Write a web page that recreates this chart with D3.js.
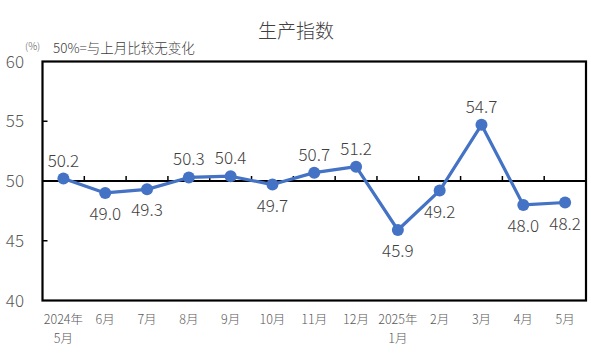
<!DOCTYPE html>
<html><head><meta charset="utf-8">
<script src="https://cdn.jsdelivr.net/npm/d3@7"></script>
<style>
body{margin:0;background:#fff;}
text{font-family:"Noto Sans CJK SC","Noto Sans",sans-serif;font-weight:300;}
</style></head>
<body><svg id="c" width="591" height="354"></svg>
<script>
const categories = ["2024年\n5月","6月","7月","8月","9月","10月","11月","12月","2025年\n1月","2月","3月","4月","5月"];
const values = [50.2,49.0,49.3,50.3,50.4,49.7,50.7,51.2,45.9,49.2,54.7,48.0,48.2];
const labelPos = ["above","below","below","above","above","below","above","above","below","below","above","below","below"];
const yTicks = [40,45,50,55,60];
const title = "生产指数";
const unit = "(%)";
const note = "50%=与上月比较无变化";

const svg = d3.select("#c");
const L=42.5, R=586, T=61.5, B=300.5;
const x = d3.scaleBand().domain(d3.range(categories.length)).range([L,R]);
const y = d3.scaleLinear().domain([40,60]).range([B,T]);
const txt = "#595959";

svg.append("text").attr("x",296).attr("y",38).attr("text-anchor","middle")
  .attr("font-size",19).attr("fill","#404040").text(title);
svg.append("text").attr("x",25).attr("y",50).attr("font-size",10).attr("fill",txt).text(unit);
svg.append("text").attr("x",53).attr("y",53).attr("font-size",13.5).attr("fill","#404040").text(note);

// y labels
svg.selectAll(".yl").data(yTicks).enter().append("text")
  .attr("x",24).attr("y",d=>y(d)+6).attr("text-anchor","end")
  .attr("font-size",17).attr("fill",txt).text(d=>d);

// frame
svg.append("rect").attr("x",L).attr("y",T).attr("width",R-L).attr("height",B-T)
  .attr("fill","none").attr("stroke","#000").attr("stroke-width",2.2);

// y inner ticks
svg.selectAll(".yt").data([45,55]).enter().append("line")
  .attr("x1",L).attr("x2",L+5).attr("y1",d=>y(d)).attr("y2",d=>y(d))
  .attr("stroke","#000").attr("stroke-width",1.5);

// 50 axis line
const ax = svg.append("g").attr("transform",`translate(0,${y(50)})`);
ax.append("line").attr("x1",L).attr("x2",R).attr("stroke","#000").attr("stroke-width",2.2);
ax.selectAll(".xt").data(d3.range(1,categories.length)).enter().append("line")
  .attr("x1",d=>x(d)).attr("x2",d=>x(d)).attr("y1",0).attr("y2",-5)
  .attr("stroke","#000").attr("stroke-width",1.5);

// x labels
const cx = i=>x(i)+x.bandwidth()/2;
categories.forEach((c,i)=>{
  const t = svg.append("text").attr("text-anchor","middle").attr("font-size",12.5).attr("fill",txt);
  c.split("\n").forEach((s,j)=>{
    t.append("tspan").attr("x",cx(i)).attr("y",324+j*19).text(s);
  });
});

// line
const line = d3.line().x((d,i)=>cx(i)).y(d=>y(d));
svg.append("path").datum(values).attr("d",line).attr("fill","none")
  .attr("stroke","#4472C4").attr("stroke-width",3.2).attr("stroke-linejoin","round");
svg.selectAll(".pt").data(values).enter().append("circle")
  .attr("cx",(d,i)=>cx(i)).attr("cy",d=>y(d)).attr("r",6).attr("fill","#4472C4");

// data labels
svg.selectAll(".dl").data(values).enter().append("text")
  .attr("x",(d,i)=>cx(i)).attr("y",(d,i)=>y(d)+(labelPos[i]==="above"?-12:27))
  .attr("text-anchor","middle").attr("font-size",17)
  .attr("fill","#404040").text(d=>d.toFixed(1));
</script></body></html>
